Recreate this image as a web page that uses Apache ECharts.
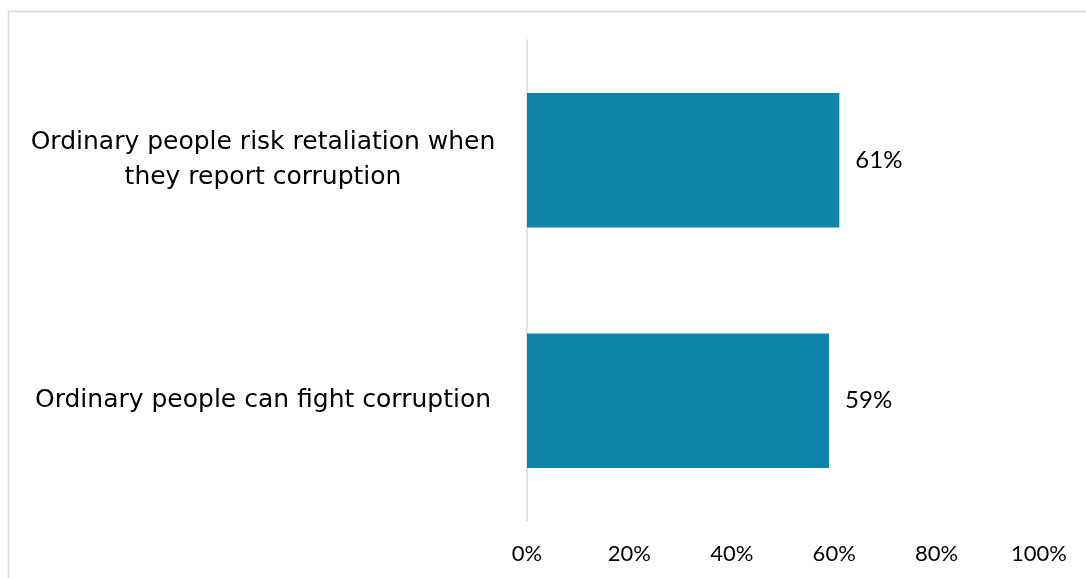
<!DOCTYPE html>
<html>
<head>
<meta charset="utf-8">
<style>
  html, body { margin: 0; padding: 0; background: #ffffff; }
  #chart { width: 1086px; height: 578px; }
</style>
<script src="https://cdn.jsdelivr.net/npm/echarts@6/dist/echarts.min.js"></script>
</head>
<body>
<div id="chart"></div>
<script>
// Data (bottom to top, as drawn on a category y-axis)
var categories = [
  'Ordinary people can fight corruption',
  'Ordinary people risk retaliation when\nthey report corruption'
];
var values = [59, 61];
var xTicks = [0, 20, 40, 60, 80, 100];

var NUM_FONT = 'Lato';
var CAT_FONT = '"DejaVu Sans"';
var chart = echarts.init(document.getElementById('chart'), null, { renderer: 'canvas' });

chart.setOption({
  backgroundColor: '#ffffff',
  animation: false,
  graphic: [{
    type: 'rect',
    shape: { x: 8.5, y: 11.5, width: 1200, height: 700 },
    style: { fill: 'none', stroke: '#d9d9d9', lineWidth: 1.5 },
    silent: true,
    z: -10
  }],
  grid: { left: 527, right: 47, top: 40, bottom: 57, containLabel: false },
  xAxis: {
    type: 'value',
    min: xTicks[0],
    max: xTicks[xTicks.length - 1],
    interval: xTicks[1] - xTicks[0],
    axisLine: { show: false },
    axisTick: { show: false },
    splitLine: { show: false },
    axisLabel: {
      formatter: function (v) { return v + '%'; },
      color: '#000000',
      fontFamily: NUM_FONT,
      fontSize: 22,
      margin: 22
    }
  },
  yAxis: {
    type: 'category',
    data: categories,
    axisLine: { show: true, lineStyle: { color: '#d9d9d9', width: 1.5 } },
    axisTick: { show: false },
    axisLabel: {
      color: '#000000',
      fontFamily: CAT_FONT,
      fontSize: 25,
      lineHeight: 35,
      align: 'center',
      margin: 264
    }
  },
  series: [{
    type: 'bar',
    data: values,
    barCategoryGap: '44%',
    itemStyle: { color: '#1085ab' },
    label: {
      show: true,
      position: 'right',
      distance: 16,
      formatter: function (p) { return p.value + '%'; },
      color: '#000000',
      fontFamily: NUM_FONT,
      fontSize: 24
    }
  }]
});
</script>
</body>
</html>
